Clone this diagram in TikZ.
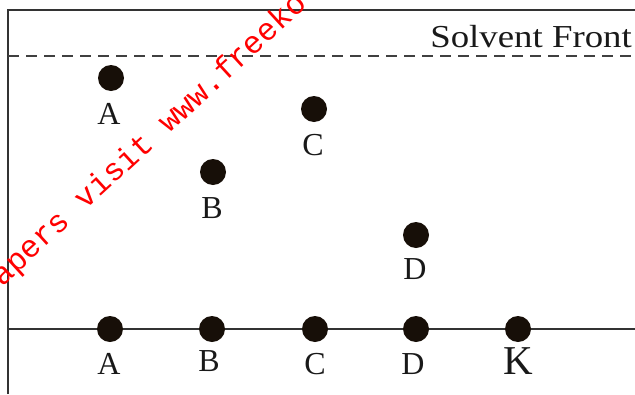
\documentclass[tikz,border=0pt]{standalone}
\usepackage{fontspec}
\setmainfont{Liberation Serif}
\newfontfamily\wmfont{Liberation Mono}
\begin{document}
\begin{tikzpicture}[x=1pt,y=-1pt,
  frameline/.style={line width=1.6pt,draw=black!80},
  spot/.style={circle,fill=black!88!brown,minimum size=26pt,inner sep=0pt},
  lbl/.style={anchor=base,font=\fontsize{32}{36}\selectfont,text=black!90,inner sep=0pt},
  wm/.style={anchor=base west,rotate=42.5,text=red,inner sep=0pt,font=\wmfont\fontsize{31.5}{36}\selectfont}]
\useasboundingbox (0,0) rectangle (635,394);
\clip (0,0) rectangle (635,394);
% frame
\coordinate (tl) at (8,10);
\coordinate (tr) at (635,10);
\coordinate (bl) at (8,394);
\coordinate (sl) at (8,56);
\coordinate (sr) at (635,56);
\coordinate (ol) at (8,329);
\coordinate (or) at (635,329);
\draw[frameline] (bl) -- (tl) -- (tr);
\draw[line width=1.4pt,draw=black!75,dash pattern=on 11pt off 7pt] (sl) -- (sr);
\draw[frameline] (ol) -- (or);
\node[anchor=base east,inner sep=0pt,text=black!90,font=\fontsize{32}{36}\selectfont,xscale=1.15] (sf) at (632,47) {Solvent Front};
% developed spots
\node[spot] (sA) at (111,78) {};
\node[spot] (sB) at (213,172) {};
\node[spot] (sC) at (314,109) {};
\node[spot] (sD) at (416,235) {};
\node[lbl] (lA) at (109,124) {A};
\node[lbl] (lB) at (212,218) {B};
\node[lbl] (lC) at (313,155) {C};
\node[lbl] (lD) at (415,279) {D};
% origin spots
\node[spot] (oA) at (110,329) {};
\node[spot] (oB) at (212,329) {};
\node[spot] (oC) at (315,329) {};
\node[spot] (oD) at (416,329) {};
\node[spot] (oK) at (518,329) {};
\node[lbl] (bA) at (109,374) {A};
\node[lbl] (bB) at (209,371) {B};
\node[lbl] (bC) at (315,374) {C};
\node[lbl] (bD) at (413,374) {D};
\node[lbl,font=\fontsize{41}{44}\selectfont] (bK) at (518,374) {K};
% watermark
\node[wm] (wmk) at (-12,300) {papers visit www.freeko};
\end{tikzpicture}
\end{document}
